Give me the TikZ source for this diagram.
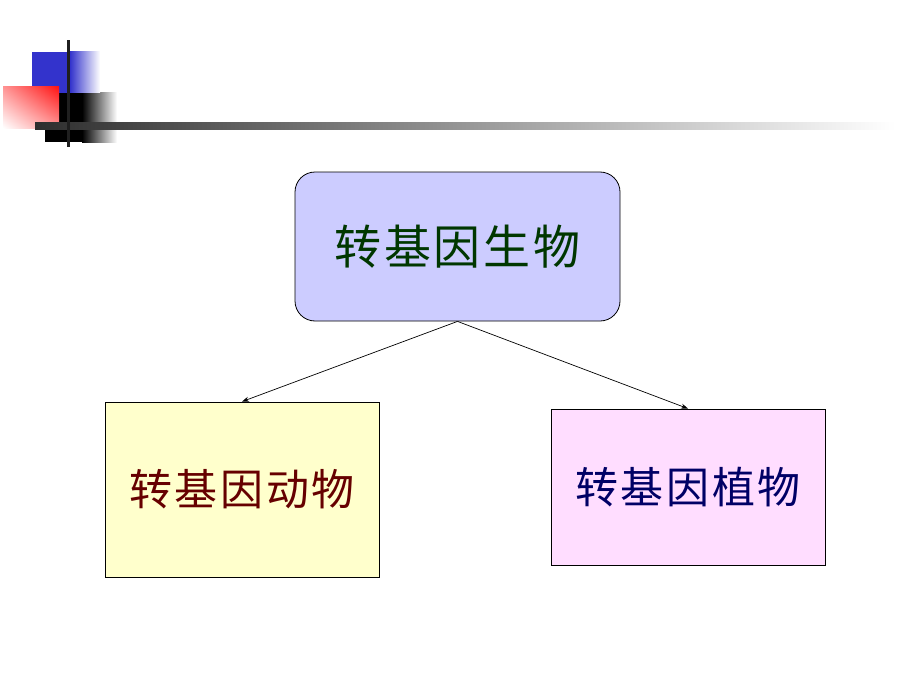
\documentclass[tikz,border=0pt]{standalone}
\usepackage{fontspec}
\usepackage{xcolor}
\newfontfamily\cjk[LetterSpace=6]{Noto Sans CJK SC}
\usetikzlibrary{arrows.meta,positioning,shadings}

\definecolor{deco blue}{RGB}{51,51,204}
\definecolor{deco red}{RGB}{255,20,20}
\definecolor{fill lav}{RGB}{204,204,255}
\definecolor{fill yel}{RGB}{255,255,204}
\definecolor{fill pink}{RGB}{255,221,255}
\definecolor{txt green}{RGB}{0,55,0}
\definecolor{txt red}{RGB}{102,0,0}
\definecolor{txt blue}{RGB}{0,0,102}

\begin{document}
\begin{tikzpicture}[x=1pt,y=-1pt]
        \tikzstyle{every node}+=[inner sep=0pt]
        \tikzstyle{kindbox}=[draw=black, line width=0.8pt, font=\cjk\fontsize{43}{43}\selectfont]
        \tikzstyle{link}=[black, line width=0.7pt, -{Stealth[length=7pt,width=5pt]}]
        \useasboundingbox (0,0) rectangle (920,690);
        % corner decoration
        \fill [black] (45,93) rectangle (82,142);
        \shade [left color=black, right color=white] (82,93) rectangle (117,142);
        \fill [deco blue] (32,52) rectangle (70,93);
        \shade [left color=deco blue, right color=white] (70,52) rectangle (100,93);
        \shade [upper right=deco red, lower left=white, upper left=deco red!45!white, lower right=deco red!45!white] (3,87) rectangle (59,128);
        \shade [left color=black!82, middle color=black!25, right color=white] (35,123) rectangle (895,129);
        \fill [black!88] (66.5,40) rectangle (69.5,147);
        % boxes
        \node [kindbox, font=\cjk\fontsize{47}{47}\selectfont, rounded corners=20pt, fill=fill lav, text=txt green, minimum width=325pt, minimum height=149pt] (organism) at (457.5,246.5) {转基因生物};
        \node [kindbox, fill=fill yel, text=txt red, minimum width=274pt, minimum height=175pt] (animal) at (242,489.5) {转基因动物};
        \node [kindbox, fill=fill pink, text=txt blue, minimum width=274pt, minimum height=156pt] (plant) at (688,487) {转基因植物};
        % arrows
        \draw [link] (organism.south) -- (animal.north);
        \draw [link] (organism.south) -- (plant.north);
\end{tikzpicture}
\end{document}
